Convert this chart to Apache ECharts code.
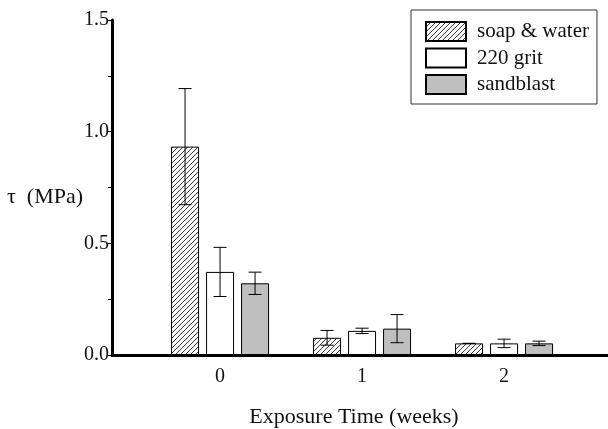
<!DOCTYPE html>
<html><head><meta charset="utf-8">
<script src="https://cdn.jsdelivr.net/npm/echarts@6/dist/echarts.min.js"></script>
<style>html,body{margin:0;padding:0;background:#fff}#c{width:608px;height:429px}</style>
</head><body><div id="c"></div>
<script>
var weeks = [0, 1, 2];
var seriesNames = ['soap & water', '220 grit', 'sandblast'];
var soapMean = [0.933, 0.077, 0.052];
var soapErr  = [0.26, 0.033, 0.0];
var gritMean = [0.372, 0.108, 0.052];
var gritErr  = [0.11, 0.012, 0.019];
var sandMean = [0.321, 0.118, 0.052];
var sandErr  = [0.05, 0.063, 0.01];
var yTicks = [0.0, 0.5, 1.0, 1.5];

var FONT = "'Liberation Serif','Times New Roman',serif";

function hatch() {
  var n = 5;
  var c = document.createElement('canvas');
  c.width = n; c.height = n;
  var g = c.getContext('2d');
  g.fillStyle = '#fff'; g.fillRect(0, 0, n, n);
  g.strokeStyle = '#3a3a3a'; g.lineWidth = 1;
  g.beginPath();
  g.moveTo(-1, n + 1); g.lineTo(n + 1, -1);
  g.moveTo(-1, 1); g.lineTo(1, -1);
  g.moveTo(n - 1, n + 1); g.lineTo(n + 1, n - 1);
  g.stroke();
  return c;
}

var means = [soapMean, gritMean, sandMean];
var errs = [soapErr, gritErr, sandErr];
var fills = [{image: hatch(), repeat: 'repeat'}, '#ffffff', '#bfbfbf'];
var offsets = [-35, 0, 35];

var series = [];
for (var s = 0; s < 3; s++) {
  series.push({
    name: seriesNames[s], type: 'bar', barWidth: 28, barGap: '25%',
    data: weeks.map(function (w, i) { return [w, means[s][i]]; }),
    itemStyle: {color: fills[s], borderColor: '#000', borderWidth: 1},
    emphasis: {disabled: true}, z: 2
  });
}
for (var s2 = 0; s2 < 3; s2++) {
  (function (s) {
    series.push({
      type: 'custom', z: 5, silent: true,
      data: weeks.map(function (w, i) { return [w, means[s][i] - errs[s][i], means[s][i] + errs[s][i]]; }),
      renderItem: function (params, api) {
        var hi = api.coord([api.value(0), api.value(2)]);
        var lo = api.coord([api.value(0), api.value(1)]);
        var x = hi[0] + offsets[s];
        var cw = 6.5;
        var st = {stroke: '#000', lineWidth: 1};
        return {type: 'group', children: [
          {type: 'line', shape: {x1: x, y1: hi[1], x2: x, y2: lo[1]}, style: st},
          {type: 'line', shape: {x1: x - cw, y1: hi[1], x2: x + cw, y2: hi[1]}, style: st},
          {type: 'line', shape: {x1: x - cw, y1: lo[1], x2: x + cw, y2: lo[1]}, style: st}
        ]};
      }
    });
  })(s2);
}

var chart = echarts.init(document.getElementById('c'), null, {renderer: 'canvas'});
chart.setOption({
  animation: false,
  backgroundColor: '#fff',
  textStyle: {fontFamily: FONT},
  grid: {left: 112, right: 0, top: 20, bottom: 74, containLabel: false, outerBoundsMode: 'none'},
  legend: {
    data: seriesNames.map(function (n) { return {name: n, icon: 'rect'}; }),
    left: 411, top: 10, orient: 'vertical',
    itemWidth: 40, itemHeight: 19, itemGap: 5.5,
    padding: [11, 8, 9, 14],
    borderColor: '#333', borderWidth: 1,
    textStyle: {fontFamily: FONT, fontSize: 21, color: '#111', padding: [0, 0, 0, 6]},
    selectedMode: false
  },
  xAxis: {
    type: 'value', min: -0.761, max: 2.732,
    name: 'Exposure Time (weeks)', nameLocation: 'middle', nameGap: 51,
    nameTextStyle: {fontFamily: FONT, fontSize: 22, color: '#111', padding: [0, 12, 0, 0]},
    axisLine: {show: true, onZero: false, lineStyle: {color: '#000', width: 3}},
    axisTick: {show: false},
    splitLine: {show: false},
    axisLabel: {
      margin: 12, fontFamily: FONT, fontSize: 20, color: '#111',
      showMinLabel: false, showMaxLabel: false,
      formatter: function (v) { return weeks.indexOf(v) >= 0 ? String(v) : ''; }
    }
  },
  yAxis: {
    type: 'value', min: yTicks[0], max: yTicks[yTicks.length - 1], interval: 0.5,
    axisLine: {show: true, onZero: false, lineStyle: {color: '#000', width: 3}},
    axisTick: {show: true, inside: false, length: 4, lineStyle: {color: '#000', width: 1}},
    minorTick: {show: true, splitNumber: 2, length: 4, lineStyle: {color: '#000', width: 1}},
    splitLine: {show: false},
    axisLabel: {
      margin: 3, fontFamily: FONT, fontSize: 20, color: '#111',
      formatter: function (v) { return v.toFixed(1); }
    }
  },
  graphic: [{
    type: 'text', left: 7, top: 186,
    style: {text: 'τ  (MPa)', font: '22px ' + FONT, fill: '#111'}
  }],
  series: series
});
</script></body></html>
